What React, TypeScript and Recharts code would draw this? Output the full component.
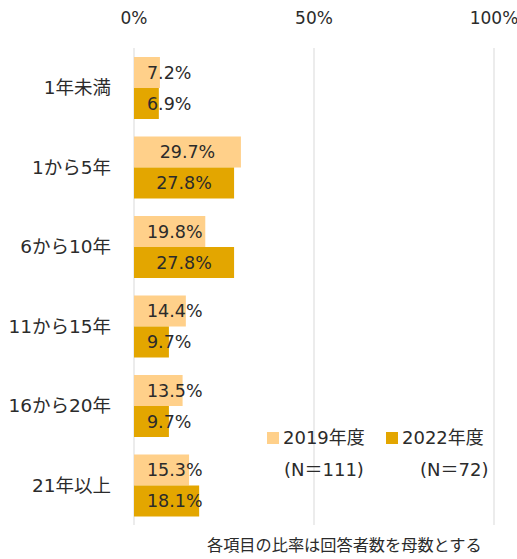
import React from "react";
import {
  BarChart,
  Bar,
  XAxis,
  YAxis,
  CartesianGrid,
  LabelList,
} from "recharts";

const categories = ["1年未満", "1から5年", "6から10年", "11から15年", "16から20年", "21年以上"];
const y2019 = [7.2, 29.7, 19.8, 14.4, 13.5, 15.3];
const y2022 = [6.9, 27.8, 27.8, 9.7, 9.7, 18.1];
const xTicks = [0, 50, 100];

const LIGHT = "#FFD08A";
const DARK = "#E3A600";
// DejaVu Sans is close to the Verdana-style latin of the original; CJK falls back to Noto
const FONT = "'DejaVu Sans', 'Noto Sans CJK JP', sans-serif";
const LABEL_SIZE = 17.5;

const data = categories.map((c, i) => ({ name: c, a: y2019[i], b: y2022[i] }));

// rough DejaVu advance widths, used to keep short labels off the axis
const textWidth = (s: string, size: number) =>
  s.split("").reduce((w, ch) => w + (ch === "." ? 0.318 : ch === "%" ? 0.95 : 0.636), 0) * size;

// labels sit centred in the bar, but never closer than 13px to the base
function BarLabel(props: any) {
  const { x, y, width, height, value } = props;
  const text = `${Number(value).toFixed(1)}%`;
  const w = textWidth(text, LABEL_SIZE);
  const cx = Math.max(x + width / 2, x + 13 + w / 2);
  return (
    <text
      x={cx}
      y={y + height / 2}
      dy="0.36em"
      textAnchor="middle"
      fontSize={LABEL_SIZE}
      fill="#2b2b2b"
      fontFamily={FONT}
    >
      {text}
    </text>
  );
}

function TopTick(props: any) {
  const { x, payload } = props;
  return (
    <text x={x} y={18} dy="0.36em" textAnchor="middle" fontSize={17} fill="#2b2b2b" fontFamily={FONT}>
      {`${payload.value}%`}
    </text>
  );
}

function CatTick(props: any) {
  const { y, payload } = props;
  return (
    <text x={111} y={y} dy="0.36em" textAnchor="end" fontSize={18.5} fill="#2b2b2b" fontFamily={FONT}>
      {payload.value}
    </text>
  );
}

export default function App() {
  return (
    <div style={{ position: "absolute", left: 0, top: 0, width: 517, height: 559, background: "#fff", fontFamily: FONT }}>
      <BarChart
        width={517}
        height={559}
        data={data}
        layout="vertical"
        margin={{ top: 18, right: 23, bottom: 34, left: 10 }}
        barGap={0}
        barCategoryGap={9}
      >
        <CartesianGrid horizontal={false} stroke="#D9D9D9" />
        <XAxis
          type="number"
          orientation="top"
          domain={[0, 100]}
          ticks={xTicks}
          height={30}
          axisLine={false}
          tickLine={false}
          tick={<TopTick />}
        />
        <YAxis
          type="category"
          dataKey="name"
          width={124}
          axisLine={false}
          tickLine={false}
          tick={<CatTick />}
        />
        <Bar dataKey="a" fill={LIGHT} isAnimationActive={false}>
          <LabelList dataKey="a" content={<BarLabel />} />
        </Bar>
        <Bar dataKey="b" fill={DARK} isAnimationActive={false}>
          <LabelList dataKey="b" content={<BarLabel />} />
        </Bar>
      </BarChart>
      <div style={{ position: "absolute", left: 267, top: 422, fontSize: 18, color: "#2b2b2b", lineHeight: "32px" }}>
        <div style={{ display: "flex" }}>
          <div style={{ width: 119, display: "flex", alignItems: "center" }}>
            <span style={{ width: 12, height: 12, background: LIGHT, display: "inline-block", marginRight: 4 }} />
            2019年度
          </div>
          <div style={{ display: "flex", alignItems: "center" }}>
            <span style={{ width: 12, height: 12, background: DARK, display: "inline-block", marginRight: 4 }} />
            2022年度
          </div>
        </div>
        <div style={{ display: "flex" }}>
          <div style={{ width: 119, paddingLeft: 17 }}>(N＝111)</div>
          <div style={{ paddingLeft: 17 }}>(N＝72)</div>
        </div>
      </div>
      <div style={{ position: "absolute", left: 207, top: 536, fontSize: 16.2, lineHeight: "20px", color: "#2b2b2b", whiteSpace: "nowrap" }}>
        各項目の比率は回答者数を母数とする
      </div>
    </div>
  );
}
